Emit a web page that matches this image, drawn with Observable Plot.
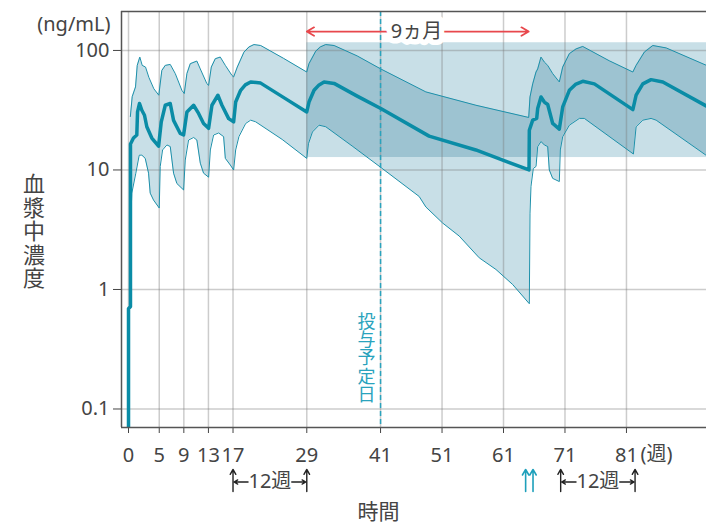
<!DOCTYPE html>
<html><head><meta charset="utf-8">
<script src="https://cdn.jsdelivr.net/npm/d3@7"></script>
<script src="https://cdn.jsdelivr.net/npm/@observablehq/plot@0.6"></script>
<style>body{margin:0;background:#fff}</style>
</head><body><div id="chart"></div>
<script>
// ---- data (weeks, ng/mL) ----
const weekTicks = [0, 5, 9, 13, 17, 29, 41, 51, 61, 71, 81];
const concTicks = [0.1, 1, 10, 100];

const median = [
  [0, 0.05], [0, 0.69], [0.32, 0.72], [0.32, 16.5], [0.81, 18.5], [1.35, 19.6], [1.47, 30.6],
  [1.79, 36], [2.17, 31.6], [2.6, 28.7], [2.98, 23], [3.79, 18.5], [4.89, 15.8],
  [5.33, 25.3], [5.98, 34.8], [6.79, 36], [7.33, 26], [8.42, 20.2], [8.96, 19.6],
  [9.5, 30.6], [10.59, 34.8], [11.4, 29.7], [12.21, 24.5], [13.03, 22.3],
  [13.57, 34.8], [14.54, 42.2], [15.2, 34.8], [16.29, 26.9], [17.1, 25.3],
  [17.43, 37], [18.24, 46.4], [19.0, 51.5], [19.87, 54.5], [21.5, 53.3], [25.2, 40.5], [28.99, 30.6],
  [29.36, 37], [30.18, 46.4], [31.0, 51.5], [31.81, 54.5], [33.44, 53], [37.2, 41.5], [41.04, 32.7],
  [48.9, 19.2], [56.5, 14.7], [65.15, 10],
  [65.2, 21.5], [65.75, 26.1], [66.4, 27], [66.56, 32.7], [67.1, 40.8], [67.64, 37],
  [68.19, 35.3], [69.0, 24.5], [70.08, 22], [70.63, 33.7], [71.71, 46.4], [72.7, 52], [73.89, 55.2],
  [75.78, 52.5], [82.04, 32], [82.57, 42.2], [83.66, 52.5], [85.0, 57], [86.92, 54.5], [94.02, 34.2]
];

const upper95 = [
  [0.3, 28], [0.6, 41], [1.14, 49.5], [1.42, 75], [1.84, 88], [2.23, 75], [2.77, 72.6],
  [3.31, 59.6], [4.12, 47.8], [4.93, 42.2], [5.42, 68], [5.98, 75], [6.79, 76.4],
  [7.61, 64], [8.68, 46.4], [9.07, 43.6], [9.5, 64], [10.05, 77.5], [11.12, 81.5],
  [11.68, 70], [12.75, 52.7], [13.03, 51], [13.47, 72.6], [14.12, 85.3], [14.93, 88],
  [15.75, 75], [16.82, 61.9], [17.1, 60], [17.7, 72.6], [18.78, 96.8], [19.6, 107], [20.41, 112],
  [21.5, 110], [25.2, 86], [28.99, 66], [29.36, 77.5], [30.46, 98.7], [31.2, 107], [32.08, 112],
  [33.44, 110], [37.2, 90], [41.04, 70], [48.37, 45], [56.51, 34.8], [65.1, 27.5],
  [65.31, 40.8], [65.75, 52.5], [66.29, 66], [66.56, 70], [67.1, 88], [67.64, 80],
  [68.19, 75], [69.0, 64], [70.08, 54.5], [70.63, 72.6], [71.71, 94], [72.8, 103], [73.89, 108],
  [78.2, 82], [82.04, 66], [82.57, 75], [83.92, 97], [85.29, 110], [87.46, 105], [94.02, 75]
];

const lower5 = [
  [0.3, 3], [0.54, 6.4], [1.19, 9.4], [1.74, 13.3], [2.17, 13.3], [2.72, 12.5], [3.26, 9.4],
  [3.53, 6.4], [4.07, 5.6], [5.0, 4.8], [5.16, 10.7], [5.54, 14.7], [6.24, 16.2],
  [6.79, 15.7], [7.33, 9.4], [7.87, 7.7], [8.96, 6.8], [9.23, 12.1], [9.77, 17.8],
  [10.59, 18.7], [11.12, 17.8], [11.68, 11.4], [12.21, 9.4], [13.03, 8.7], [13.31, 14.7],
  [13.84, 19.6], [14.66, 20.4], [15.47, 19], [15.75, 12.5], [16.56, 11], [17.1, 10],
  [17.43, 14.7], [17.96, 19], [19.06, 24.5], [19.87, 26.1], [20.68, 25.3], [25, 18],
  [28.99, 12.5], [29.27, 16.6], [29.92, 20.8], [30.99, 23.7], [32.08, 23], [36.5, 15.7],
  [41.04, 10.5], [47.28, 6], [48.37, 4.9], [51.09, 3.6], [53.79, 2.8], [57.05, 1.84],
  [59.77, 1.47], [62.49, 1.1], [65.2, 0.76], [65.31, 4.35], [65.47, 7.3], [65.85, 10.3],
  [66.29, 10.7], [66.56, 15.7], [67.1, 17.3], [67.64, 16.2], [68.19, 15.7], [68.45, 10],
  [69.0, 8.5], [70.08, 8], [70.24, 14.7], [70.63, 19], [71.71, 23.7], [73.34, 27],
  [74.15, 27], [82.13, 13.6], [82.57, 23], [83.66, 26.1], [85.0, 27], [85.83, 26.1], [94.02, 13.2]
];

const targetRange = [12.7, 116];      // shaded target concentration band
const targetStartWeek = 29;
const dueWeek = 41;                   // 投与予定日
const nineMonthSpan = [29, 65.1];     // 9ヵ月
const intervalSpans = [[17, 29], [70.3, 82.4]]; // 12週
const restartDoseWeeks = [64.6, 65.8];

// ---- layout / style ----
const xDomain = [-1.14, 94.02];
const yDomain = [0.0700, 211.8];
const spanArrowY = 144;                       // level of 9ヵ月 arrow
const belowTop = 0.0312, belowBottom = 0.0204, belowMid = 0.0245; // under-axis annotations
const TEAL = "#0a8ca6", EDGE = "#1d90aa", DASH = "#2aa3bd", LIGHT = "#c8dfe7", DARK = "#9dc3d1", RED = "#e8474c", INK = "#444";
const FONT = "'Noto Sans', 'Noto Sans CJK JP', sans-serif";

// pair two boundary polylines into rows for an area (x1,y1)->(x2,y2)
function pairRows(up, lo) {
  const n = Math.max(up.length, lo.length);
  return d3.range(n).map(i => {
    const u = up[Math.min(i, up.length - 1)];
    const l = lo[Math.min(i, lo.length - 1)];
    return {ux: u[0], uy: u[1], lx: l[0], ly: l[1]};
  });
}
// clip a polyline (straight in log-y) to [lo, hi] in y
function clampLog(pts, lo, hi) {
  const out = [];
  const L = v => Math.log(v);
  for (let i = 0; i < pts.length; i++) {
    const p = pts[i];
    if (i > 0) {
      const q = pts[i - 1];
      for (const b of [lo, hi]) {
        if ((q[1] - b) * (p[1] - b) < 0) {
          const t = (L(b) - L(q[1])) / (L(p[1]) - L(q[1]));
          out.push([q[0] + t * (p[0] - q[0]), b]);
        }
      }
    }
    out.push([p[0], Math.min(hi, Math.max(lo, p[1]))]);
  }
  return out;
}
const band = pairRows(upper95, lower5);
const inTarget = p => p[0] >= targetStartWeek - 0.02;
const overlap = pairRows(
  clampLog(upper95.filter(inTarget), targetRange[0], targetRange[1]),
  clampLog(lower5.filter(inTarget), targetRange[0], targetRange[1])
);

const nmMid = 46.85;
const nineArrows = [
  {x1: nmMid, x2: nineMonthSpan[0], y: spanArrowY},
  {x1: nmMid, x2: nineMonthSpan[1], y: spanArrowY}
];
const labelHalf = 3.55; // half width of "12週" in weeks
const intervalArrows = intervalSpans.flatMap(([a, b]) => {
  const m = (a + b) / 2;
  return [{x1: m - labelHalf, x2: a + 0.15, y: belowMid}, {x1: m + labelHalf, x2: b - 0.15, y: belowMid}];
});
const intervalUps = intervalSpans.flatMap(([a, b]) => [{x: a}, {x: b}]);
const intervalLabels = intervalSpans.map(([a, b]) => ({x: (a + b) / 2, y: belowMid, t: "12週"}));

const chart = Plot.plot({
  width: 706, height: 524,
  marginLeft: 121, marginTop: 11, marginRight: 0, marginBottom: 97,
  style: {fontFamily: FONT, fontSize: "20px", color: INK, background: "white"},
  x: {domain: xDomain, ticks: weekTicks, tickSize: 6, tickPadding: 14, tickFormat: d => String(d), label: null},
  y: {type: "log", domain: yDomain, ticks: concTicks, tickSize: 8, tickPadding: 4, tickFormat: d => String(d), label: null},
  marks: [
    Plot.rect([{x1: targetStartWeek, x2: xDomain[1], y1: targetRange[0], y2: targetRange[1]}],
      {x1: "x1", x2: "x2", y1: "y1", y2: "y2", fill: LIGHT}),
    Plot.area(band, {x1: "lx", y1: "ly", x2: "ux", y2: "uy", fill: LIGHT, clip: true}),
    Plot.area(overlap, {x1: "lx", y1: "ly", x2: "ux", y2: "uy", fill: DARK, clip: true}),
    Plot.ruleX(weekTicks, {stroke: "#7a7a7a", strokeOpacity: 0.38, strokeWidth: 1.5}),
    Plot.ruleY(concTicks, {stroke: "#7a7a7a", strokeOpacity: 0.38, strokeWidth: 1.5}),
    Plot.line(upper95, {x: d => d[0], y: d => d[1], stroke: EDGE, strokeWidth: 1, strokeLinejoin: "round", clip: true}),
    Plot.line(lower5, {x: d => d[0], y: d => d[1], stroke: EDGE, strokeWidth: 1, strokeLinejoin: "round", clip: true}),
    Plot.ruleX([dueWeek], {stroke: DASH, strokeWidth: 1.5, strokeDasharray: "5,3"}),
    Plot.line(median, {x: d => d[0], y: d => d[1], stroke: TEAL, strokeWidth: 3.5, strokeLinejoin: "round", clip: true}),
    // frame
    Plot.ruleX([xDomain[0]], {stroke: "#555", strokeWidth: 1.5}),
    Plot.ruleY([yDomain[0]], {stroke: "#555", strokeWidth: 1.5}),
    Plot.ruleY([yDomain[1]], {stroke: "#555", strokeWidth: 1.5}),
    // 9ヵ月 arrow
    Plot.arrow(nineArrows, {x1: "x1", x2: "x2", y1: "y", y2: "y", stroke: RED, strokeWidth: 1.8, headLength: 7}),
    Plot.text([{x: nmMid, y: spanArrowY, t: "9ヵ月"}], {x: "x", y: "y", text: "t", fontSize: 20, fill: INK, stroke: "white", strokeWidth: 11}),
    // 投与予定日
    Plot.text([{x: dueWeek, y: 0.265, t: "投\n与\n予\n定\n日"}], {x: "x", y: "y", text: "t", dx: -14, fontSize: 18, lineHeight: 1.02, fill: DASH}),
    // under-axis annotations
    Plot.arrow(intervalUps, {x1: "x", x2: "x", y1: () => belowBottom, y2: () => belowTop, stroke: "#222", strokeWidth: 1.4, headLength: 6}),
    Plot.arrow(intervalArrows, {x1: "x1", x2: "x2", y1: "y", y2: "y", stroke: "#222", strokeWidth: 1.3, headLength: 5}),
    Plot.text(intervalLabels, {x: "x", y: "y", text: "t", fontSize: 20, fill: INK}),
    Plot.arrow(restartDoseWeeks.map(x => ({x})), {x1: "x", x2: "x", y1: () => belowBottom, y2: () => belowTop, stroke: "#1ea0bb", strokeWidth: 1.6, headLength: 6}),
    Plot.text([{x: 81, t: "(週)"}], {x: "x", text: "t", frameAnchor: "bottom", lineAnchor: "middle", dx: 14, dy: 27, textAnchor: "start", fontSize: 20, fill: INK}),
    // axis titles
    Plot.text(["(ng/mL)"], {frameAnchor: "top-left", lineAnchor: "middle", dx: -11, dy: 13, textAnchor: "end", fontSize: 20, fill: INK}),
    Plot.text(["血\n漿\n中\n濃\n度"], {frameAnchor: "left", lineAnchor: "middle", dx: -98.5, dy: 12, fontSize: 22, lineHeight: 1.07, fill: INK}),
    Plot.text(["時間"], {frameAnchor: "bottom", lineAnchor: "middle", dx: -35.5, dy: 85, fontSize: 21, fill: INK})
  ]
});
document.getElementById("chart").appendChild(chart);
</script>
</body></html>
